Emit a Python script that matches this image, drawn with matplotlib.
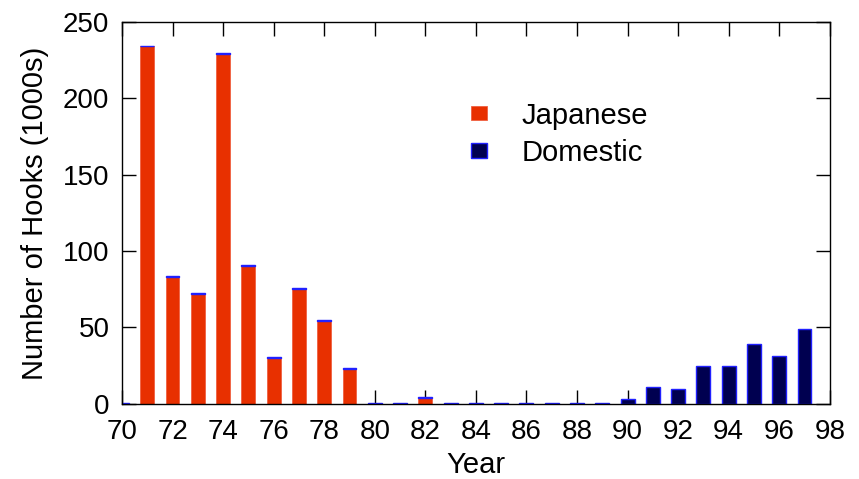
import matplotlib.pyplot as plt
import numpy as np

plt.rcParams['font.family'] = ['Liberation Sans', 'DejaVu Sans']

years = list(range(70, 98))
japanese = [0, 234, 83, 72, 229, 90, 30, 75, 54, 23,
            0, 0, 4, 0, 0, 0, 0, 0, 0, 0,
            0, 0, 0, 0, 0, 0, 0, 0]
domestic = [0.6, 0.6, 0.6, 0.6, 0.6, 0.6, 0.6, 0.6, 0.6, 0.6,
            0.6, 0.6, 0.6, 0.6, 0.6, 0.6, 0.6, 0.6, 0.6, 0.6,
            3, 11, 10, 25, 25, 39, 31, 49]

fig, ax = plt.subplots(figsize=(8.59, 4.79), dpi=100)
fig.subplots_adjust(left=0.142, right=0.966, top=0.954, bottom=0.157)

w = 0.55
ax.bar(years, japanese, width=w, color='#e83000', edgecolor='#f06040',
       linewidth=0.6, label='Japanese', zorder=2)
ax.bar(years, domestic, width=w, bottom=japanese, color='#000050',
       edgecolor='#2020ff', linewidth=1.0, label='Domestic', zorder=2)

ax.set_xlim(70, 98)
ax.set_ylim(0, 250)
ax.set_xticks(np.arange(70, 99, 2))
ax.set_yticks(np.arange(0, 251, 50))
ax.tick_params(direction='in', length=10, width=1, top=True, right=True,
               labelsize=20)
ax.tick_params(axis='x', pad=11)
ax.tick_params(axis='y', pad=9)
ax.set_xlabel('Year', fontsize=21, labelpad=4)
ax.set_ylabel('Number of Hooks (1000s)', fontsize=21, labelpad=10)
for s in ax.spines.values():
    s.set_linewidth(1)

ax.legend(loc='upper left', bbox_to_anchor=(0.472, 0.83), frameon=False,
          fontsize=21, handlelength=0.55, handleheight=0.4,
          handletextpad=1.2, labelspacing=0.32, borderpad=0)

fig.savefig('out.png', dpi=100)
